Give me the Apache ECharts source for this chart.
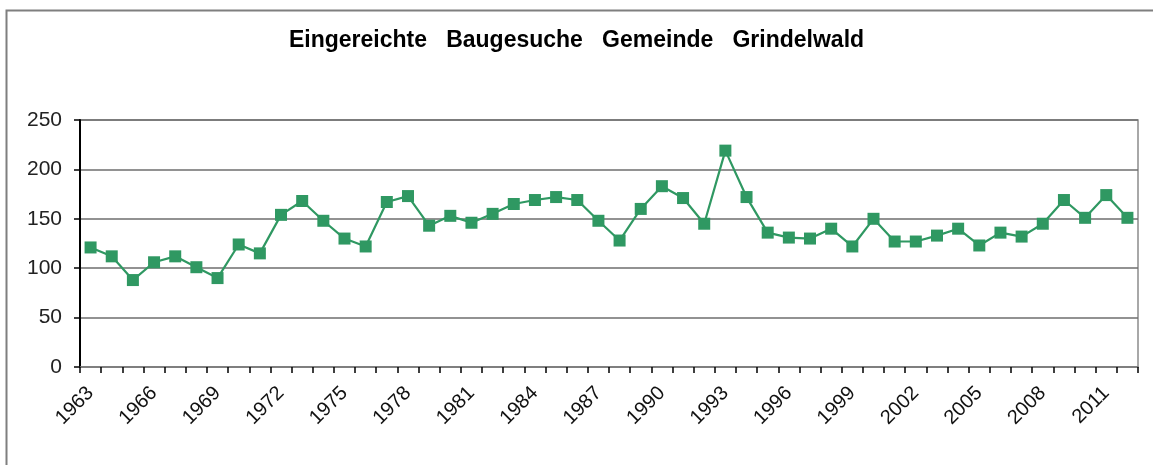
<!DOCTYPE html>
<html>
<head>
<meta charset="utf-8">
<script src="https://cdn.jsdelivr.net/npm/echarts@6/dist/echarts.min.js"></script>
<style>
  html, body { margin: 0; padding: 0; background: #fff; }
  #chart { width: 1153px; height: 465px; }
</style>
</head>
<body>
<div id="chart"></div>
<script>
var years = [];
for (var y = 1963; y <= 2012; y++) {
    years.push(String(y));
}

// Eingereichte Baugesuche pro Jahr
var gesuche = [
    121, 112, 88, 106, 112, 101, 90, 124, 115, 154,
    168, 148, 130, 122, 167, 173, 143, 153, 146, 155,
    165, 169, 172, 169, 148, 128, 160, 183, 171, 145,
    219, 172, 136, 131, 130, 140, 122, 150, 127, 127,
    133, 140, 123, 136, 132, 145, 169, 151, 174, 151
];

var titleText = 'Eingereichte   Baugesuche   Gemeinde   Grindelwald';
var green = '#2f9862';
var font = 'Liberation Sans, Arial, sans-serif';

var chart = echarts.init(document.getElementById('chart'));

chart.setOption({
    animation: false,
    backgroundColor: '#fff',
    title: {
        text: titleText,
        left: 'center',
        top: 24,
        textStyle: {
            fontFamily: font,
            fontSize: 23,
            fontWeight: 'bold',
            color: '#000'
        }
    },
    graphic: [{
        type: 'rect',
        shape: { x: 6.5, y: 10.5, width: 1200, height: 500 },
        style: { fill: 'none', stroke: '#7f7f7f', lineWidth: 2 },
        silent: true,
        z: -1
    }],
    grid: {
        left: 80,
        right: 15,
        top: 120,
        bottom: 98,
        show: true,
        borderColor: '#8c8c8c',
        borderWidth: 1.5
    },
    xAxis: {
        type: 'category',
        data: years,
        boundaryGap: true,
        axisLine: { show: true, lineStyle: { color: '#808080', width: 1.5 } },
        axisTick: {
            show: true,
            interval: 0,
            length: 6,
            lineStyle: { color: '#000', width: 1.5 }
        },
        axisLabel: {
            interval: 2,
            rotate: 45,
            margin: 23,
            fontFamily: font,
            fontSize: 20,
            color: '#111'
        },
        splitLine: { show: false }
    },
    yAxis: {
        type: 'value',
        min: 0,
        max: 250,
        interval: 50,
        axisLine: { show: true, lineStyle: { color: '#000', width: 2 } },
        axisTick: { show: true, length: 6, lineStyle: { color: '#000', width: 1.5 } },
        axisLabel: {
            margin: 18,
            fontFamily: font,
            fontSize: 21,
            color: '#222'
        },
        splitLine: { show: true, lineStyle: { color: '#6e6e6e', width: 1.5 } }
    },
    series: [{
        type: 'line',
        data: gesuche,
        symbol: 'rect',
        symbolSize: 12,
        lineStyle: { color: green, width: 2.2 },
        itemStyle: { color: green },
        z: 3
    }]
});
</script>
</body>
</html>
